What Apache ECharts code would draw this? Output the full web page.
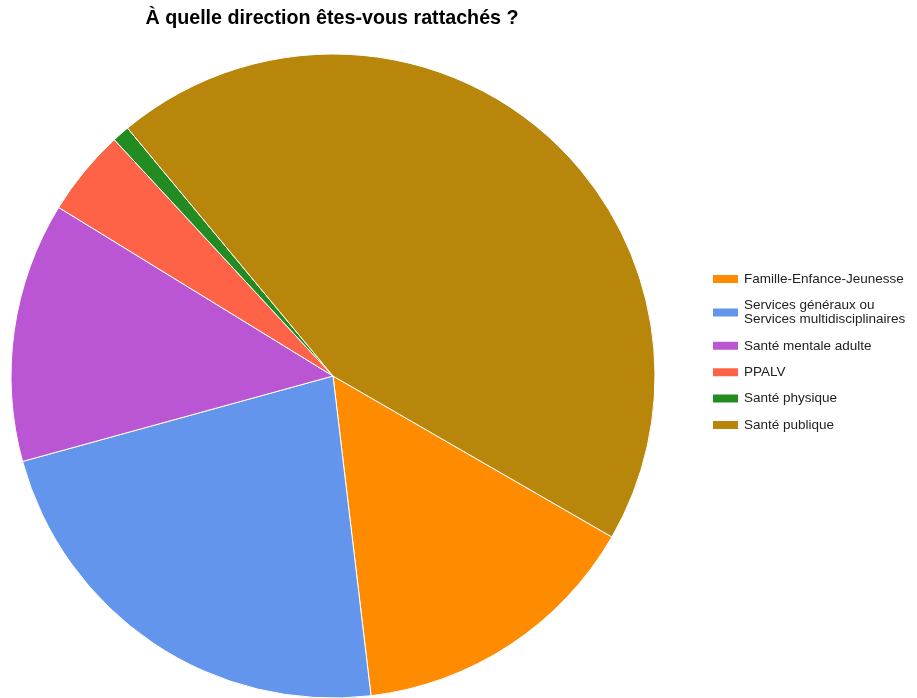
<!DOCTYPE html>
<html lang="fr">
<head>
<meta charset="utf-8">
<title>À quelle direction êtes-vous rattachés ?</title>
<script src="https://cdn.jsdelivr.net/npm/echarts@6/dist/echarts.min.js"></script>
<style>
  html, body { margin: 0; padding: 0; background: #ffffff; }
  #chart { width: 917px; height: 698px; }
</style>
</head>
<body>
<div id="chart"></div>
<script>
// Directions (répondants par direction)
const categories = [
  'Famille-Enfance-Jeunesse',
  'Services généraux ou\nServices multidisciplinaires',
  'Santé mentale adulte',
  'PPALV',
  'Santé physique',
  'Santé publique'
];
const counts = [17, 26, 15, 5, 1, 51];
const colors = ['#FF8C00', '#6495ED', '#BA55D3', '#FF6347', '#228B22', '#B8860B'];

const chart = echarts.init(document.getElementById('chart'), null, { renderer: 'canvas' });

chart.setOption({
  animation: false,
  color: colors,
  title: {
    text: 'À quelle direction êtes-vous rattachés ?',
    left: 327,
    textAlign: 'center',
    top: 4,
    textStyle: {
      fontFamily: 'Liberation Sans, Arial, sans-serif',
      fontSize: 19.7,
      fontWeight: 'bold',
      color: '#000000'
    }
  },
  legend: {
    orient: 'vertical',
    left: 706,
    top: 267,
    itemWidth: 27,
    itemHeight: 10,
    itemGap: 12.4,
    icon: 'rect',
    selectedMode: false,
    textStyle: {
      fontFamily: 'Liberation Sans, Arial, sans-serif',
      fontSize: 13.5,
      lineHeight: 14,
      color: '#222222'
    },
    data: categories
  },
  series: [{
    type: 'pie',
    center: [333, 376],
    radius: 322,
    startAngle: -30,
    clockwise: true,
    label: { show: false },
    labelLine: { show: false },
    emphasis: { disabled: true },
    itemStyle: { borderColor: '#ffffff', borderWidth: 1 },
    data: categories.map((name, i) => ({ name: name, value: counts[i] }))
  }]
});
</script>
</body>
</html>
